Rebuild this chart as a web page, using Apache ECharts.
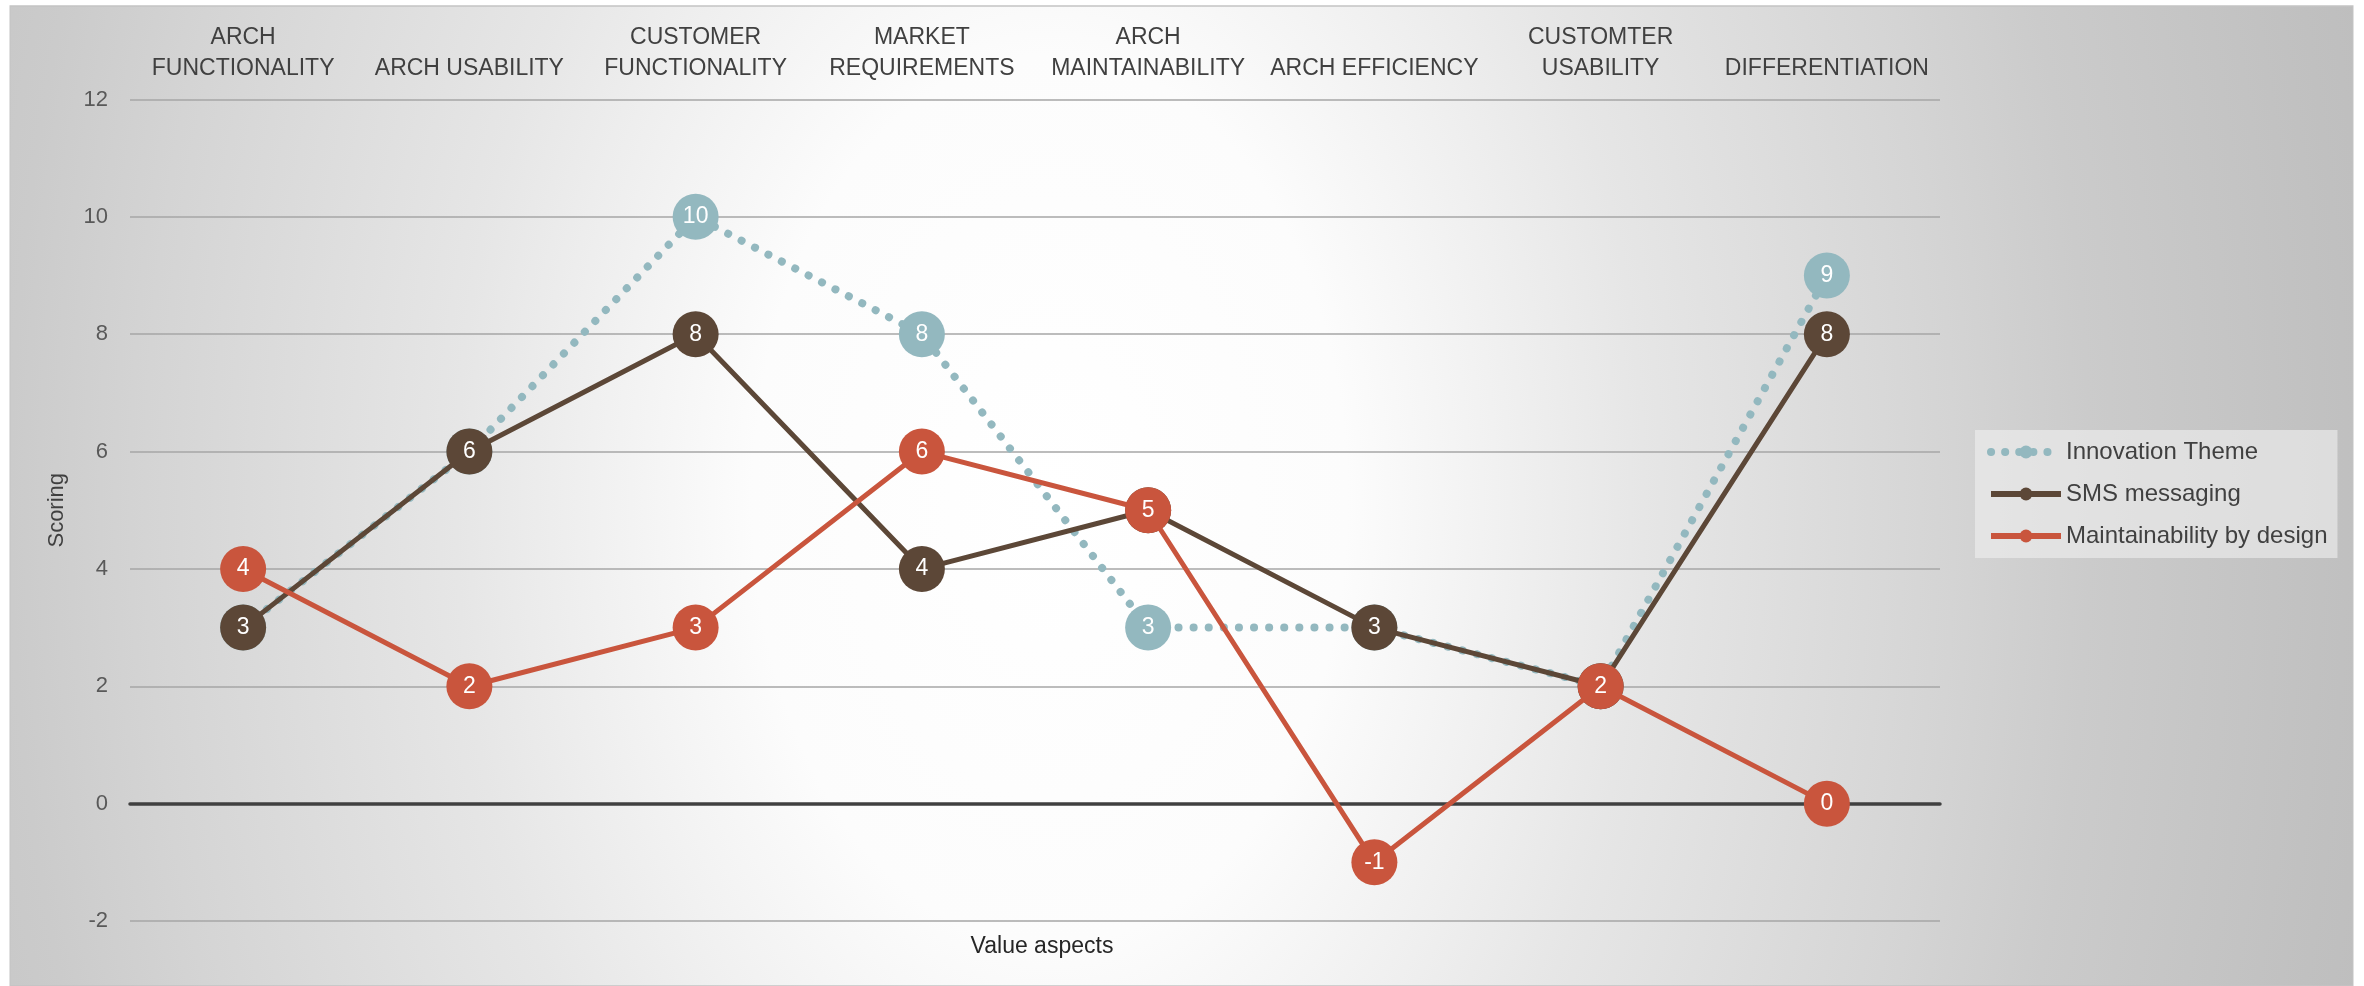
<!DOCTYPE html>
<html>
<head>
<meta charset="utf-8">
<script src="https://cdn.jsdelivr.net/npm/echarts@6/dist/echarts.min.js"></script>
<style>
  html, body { margin: 0; padding: 0; background: #ffffff; }
  #main { width: 2364px; height: 986px; }
</style>
</head>
<body>
<div id="main"></div>
<script>
// categories (top axis)
var categories = [
  'ARCH\nFUNCTIONALITY', 'ARCH USABILITY', 'CUSTOMER\nFUNCTIONALITY', 'MARKET\nREQUIREMENTS',
  'ARCH\nMAINTAINABILITY', 'ARCH EFFICIENCY', 'CUSTOMTER\nUSABILITY', 'DIFFERENTIATION'
];
// series values
var innovationTheme = [3, 6, 10, 8, 3, 3, 2, 9];
var smsMessaging = [3, 6, 8, 4, 5, 3, 2, 8];
var maintainability = [4, 2, 3, 6, 5, -1, 2, 0];

var teal = '#93b8bf';
var brown = '#5c4737';
var red = '#c9553d';

var font = "'Liberation Sans', Arial, sans-serif";

var myChart = echarts.init(document.getElementById('main'));

function pointLabel() {
  return {
    show: true,
    position: 'inside',
    color: '#ffffff',
    fontSize: 23,
    fontFamily: font
  };
}

var option = {
  animation: false,
  textStyle: { fontFamily: font },
  graphic: [
    {
      // backdrop: radial gradient stretched vertically
      type: 'rect',
      z: -10,
      silent: true,
      origin: [1050, 500],
      scaleY: 1.5,
      shape: { x: 10, y: 170.7, width: 2343, height: 653.3 },
      style: {
        fill: {
          type: 'radial',
          x: 1050, y: 500, r: 1350,
          global: true,
          colorStops: [
            { offset: 0, color: '#ffffff' },
            { offset: 0.22, color: '#fcfcfc' },
            { offset: 0.44, color: '#e6e6e6' },
            { offset: 0.67, color: '#d4d4d4' },
            { offset: 0.77, color: '#cbcbcb' },
            { offset: 0.96, color: '#c0c0c0' },
            { offset: 1, color: '#bebebe' }
          ]
        },
        stroke: '#c4c4c4',
        lineWidth: 1,
        strokeNoScale: true
      }
    }
  ],
  // x axis name sits at the bottom while labels are on top
  title: {
    text: 'Value aspects',
    left: 1037,
    top: 930,
    textAlign: 'center',
    textStyle: { fontSize: 23, fontWeight: 'normal', color: '#262626', fontFamily: font }
  },
  grid: {
    left: 130,
    right: 424,
    top: 99.5,
    bottom: 65
  },
  legend: {
    orient: 'vertical',
    left: 1975,
    top: 430,
    padding: [10, 10, 10, 12],
    itemGap: 18,
    itemWidth: 70,
    itemHeight: 16,
    backgroundColor: 'rgba(240,240,240,0.6)',
    textStyle: { fontSize: 24, color: '#404040', fontFamily: font },
    data: [
      { name: 'Innovation Theme', lineStyle: { width: 8, type: [0.1, 14], cap: 'round' } },
      { name: 'SMS messaging', lineStyle: { width: 6 } },
      { name: 'Maintainability by design', lineStyle: { width: 6 } }
    ]
  },
  xAxis: [
    {
      type: 'category',
      position: 'top',
      data: categories,
      axisLine: { show: false, onZero: false },
      axisTick: { show: false },
      axisLabel: {
        interval: 0,
        margin: 15,
        fontSize: 23,
        lineHeight: 31,
        color: '#404040',
        fontFamily: font
      }
    },
    {
      type: 'category',
      position: 'bottom',
      data: categories,
      axisLine: { show: true, onZero: true, lineStyle: { color: '#404040', width: 3.5 } },
      axisTick: { show: false },
      axisLabel: { show: false }
    }
  ],
  yAxis: {
    type: 'value',
    min: -2,
    max: 12,
    interval: 2,
    name: 'Scoring',
    nameLocation: 'middle',
    nameGap: 62,
    nameTextStyle: { fontSize: 22, color: '#404040', fontFamily: font },
    axisLine: { show: false },
    axisTick: { show: false },
    axisLabel: { fontSize: 22, color: '#595959', margin: 22, fontFamily: font },
    splitLine: { lineStyle: { color: '#a6a6a6', width: 1.5 } }
  },
  series: [
    {
      name: 'Innovation Theme',
      type: 'line',
      z: 2,
      data: innovationTheme,
      symbol: 'circle',
      symbolSize: 46,
      itemStyle: { color: teal },
      lineStyle: { color: teal, width: 8, type: [0.1, 15], cap: 'round' },
      label: pointLabel()
    },
    {
      name: 'SMS messaging',
      type: 'line',
      z: 3,
      data: smsMessaging,
      symbol: 'circle',
      symbolSize: 46,
      itemStyle: { color: brown },
      lineStyle: { color: brown, width: 5 },
      label: pointLabel()
    },
    {
      name: 'Maintainability by design',
      type: 'line',
      z: 4,
      data: maintainability,
      symbol: 'circle',
      symbolSize: 46,
      itemStyle: { color: red },
      lineStyle: { color: red, width: 5 },
      label: pointLabel()
    }
  ]
};

myChart.setOption(option);
window.addEventListener('resize', function () {
  myChart.resize();
});
</script>
</body>
</html>
